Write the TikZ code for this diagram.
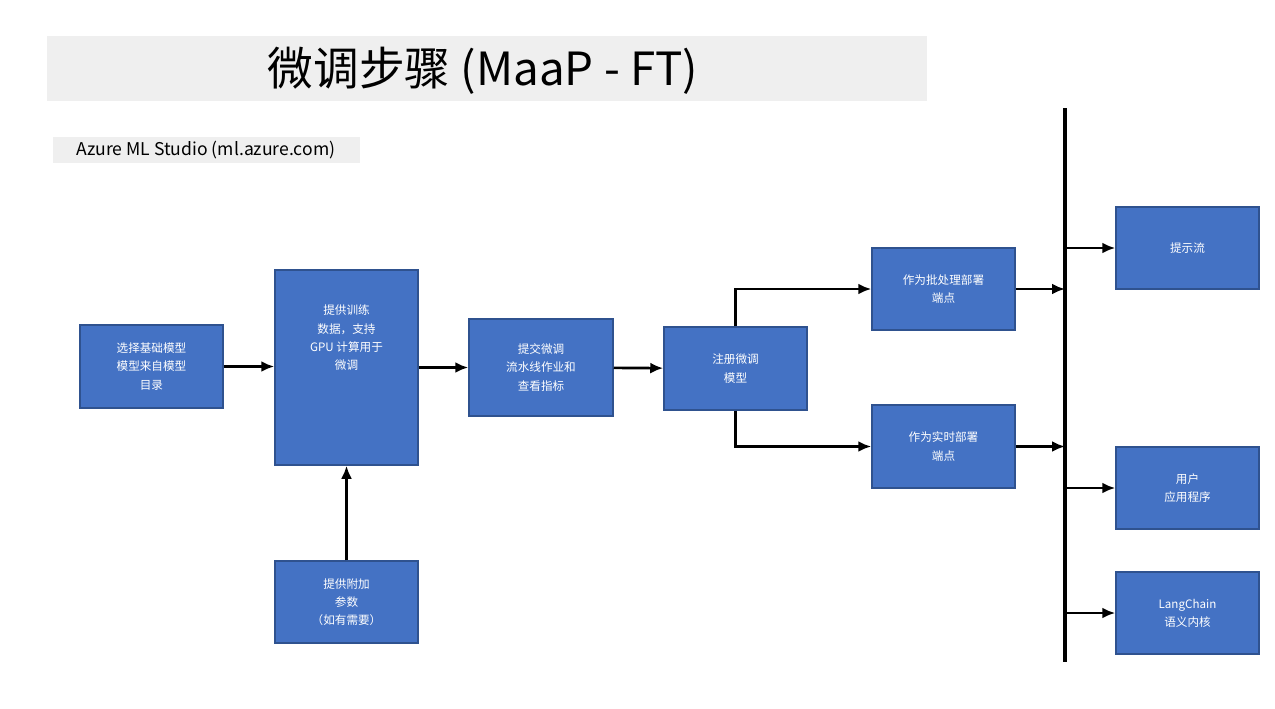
\documentclass[tikz,border=0pt]{standalone}
\usepackage{fontspec}
\setmainfont{Noto Sans CJK SC}
\usetikzlibrary{positioning}
\usetikzlibrary{arrows.meta}
\definecolor{boxblue}{HTML}{4472C4}
\definecolor{boxedge}{HTML}{2F528F}
\definecolor{bandgray}{HTML}{EFEFEF}

\begin{document}
\begin{tikzpicture}[x=0.01cm,y=-0.01cm,
  stage/.style={draw=boxedge,fill=boxblue,line width=0.4pt,text=white,align=center,
    minimum width=1.43cm,minimum height=0.82cm,inner sep=0pt,
    font=\fontsize{3.3}{5.2}\selectfont},
  flow/.style={-{Latex[length=1.3mm,width=1.1mm]},line width=0.75pt,black}]
\useasboundingbox (0,0) rectangle (1275,708);

% title
\fill[bandgray] (47,36) rectangle (927,101);
\node (title) at (483,71) {\fontsize{13}{15}\selectfont 微调步骤 (MaaP - FT)};
\fill[bandgray] (53,137) rectangle (360,163);
\node (studio) at (206,150) {\fontsize{5}{6}\selectfont Azure ML Studio (ml.azure.com)};

% stages
\node[stage,minimum height=0.83cm] (catalog) at (151.5,366.5) {选择基础模型\\模型来自模型\\目录};
\node[stage,minimum height=1.95cm] (train) at (346.5,367.5) {提供训练\\数据，支持\\GPU 计算用于\\微调\\[12pt]};
\node[stage] (params) at (346.5,602) {提供附加\\参数\\（如有需要）};
\node[stage,minimum width=1.44cm,minimum height=0.97cm] (submit) at (541,367.5) {提交微调\\流水线作业和\\查看指标};
\node[stage,minimum height=0.83cm] (register) at (735.5,368.5) {注册微调\\模型};
\node[stage] (batch) at (943.5,289) {作为批处理部署\\端点};
\node[stage,minimum height=0.83cm] (realtime) at (943.5,446.5) {作为实时部署\\端点};
\node[stage] (prompt) at (1187.5,248) {提示流};
\node[stage] (app) at (1187.5,488) {用户\\应用程序};
\node[stage] (lang) at (1187.5,613) {LangChain\\语义内核};

% bus
\coordinate (bustop) at (1065,108);
\coordinate (busbot) at (1065,662);
\draw[line width=1pt] (bustop) -- (busbot);

% flows
\draw[flow] (catalog) -- (catalog -| train.west);
\draw[flow] (train.east |- submit) -- (submit);
\draw[flow] (submit) -- (register);
\draw[flow] (params) -- (train);
\draw[flow] (register.north) |- (batch.west);
\draw[flow] (register.south) |- (realtime.west);
\draw[flow] (batch.east) -- (batch -| bustop);
\draw[flow] (realtime.east) -- (realtime -| bustop);
\draw[flow] (prompt -| bustop) -- (prompt.west);
\draw[flow] (app -| bustop) -- (app.west);
\draw[flow] (lang -| bustop) -- (lang.west);
\end{tikzpicture}
\end{document}
